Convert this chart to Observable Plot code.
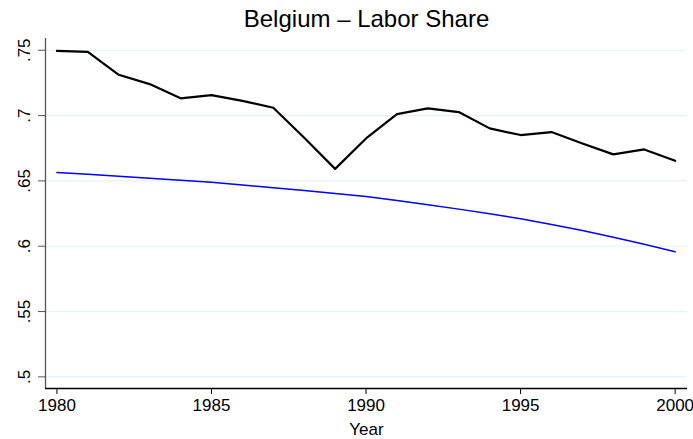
<!DOCTYPE html>
<html>
<head>
<meta charset="utf-8">
<script src="https://cdn.jsdelivr.net/npm/d3@7"></script>
<script src="https://cdn.jsdelivr.net/npm/@observablehq/plot@0.6"></script>
<style>
  html, body { margin: 0; padding: 0; background: #fff; }
  svg { display: block; }
</style>
</head>
<body>
<div id="chart"></div>
<script>
const titleText = "Belgium – Labor Share";
const xLabel = "Year";
const years = [1980,1981,1982,1983,1984,1985,1986,1987,1988,1989,1990,1991,1992,1993,1994,1995,1996,1997,1998,1999,2000];
const laborShare = [0.7495,0.7488,0.7312,0.7241,0.7132,0.7157,0.7113,0.7060,0.6830,0.6592,0.6825,0.7011,0.7055,0.7027,0.6902,0.6851,0.6874,0.6787,0.6703,0.6741,0.6654];
const trend = [0.6565,0.6551,0.6536,0.6521,0.6505,0.6489,0.6469,0.6448,0.6426,0.6403,0.6380,0.6350,0.6318,0.6284,0.6248,0.6210,0.6167,0.6120,0.6069,0.6015,0.5958];
const yTicks = [0.5,0.55,0.6,0.65,0.7,0.75];
const yTickLabels = [".5",".55",".6",".65",".7",".75"];
const xTicks = [1980,1985,1990,1995,2000];

const actual = years.map((y,i) => ({year: y, value: laborShare[i]}));
const fitted = years.map((y,i) => ({year: y, value: trend[i]}));
const xDomain = [1979.63, 2000.4];
const yDomain = [0.4911, 0.759];

const chart = Plot.plot({
  width: 693,
  height: 439,
  marginLeft: 45,
  marginRight: 6,
  marginTop: 38,
  marginBottom: 51,
  style: {fontFamily: "'Liberation Sans', Arial, sans-serif", background: "#fff", color: "#000"},
  x: {domain: xDomain},
  y: {domain: yDomain},
  marks: [
    Plot.gridY(yTicks, {stroke: "#e8f0f2", strokeOpacity: 1, strokeWidth: 1.2}),
    Plot.axisY(yTicks, {
      tickFormat: (d) => yTickLabels[yTicks.indexOf(d)],
      tickRotate: -90, tickSize: 7, tickPadding: 9,
      fontSize: 17, stroke: "#555", label: null
    }),
    Plot.axisX(xTicks, {
      tickFormat: (d) => String(d), tickSize: 6, tickPadding: 4,
      fontSize: 17, stroke: "#000", label: null
    }),
    Plot.ruleX([xDomain[0]], {stroke: "#555", strokeWidth: 1.3}),
    Plot.ruleY([yDomain[0]], {stroke: "#000", strokeWidth: 1.3}),
    Plot.line(fitted, {x: "year", y: "value", stroke: "#0000ff", strokeWidth: 1.5}),
    Plot.line(actual, {x: "year", y: "value", stroke: "#000", strokeWidth: 2.2}),
    Plot.text([titleText], {frameAnchor: "top", dy: -29, fontSize: 24, fill: "#000"}),
    Plot.text([xLabel], {frameAnchor: "bottom", dy: 46, fontSize: 17, fill: "#000"})
  ]
});
document.getElementById("chart").appendChild(chart);
</script>
</body>
</html>
